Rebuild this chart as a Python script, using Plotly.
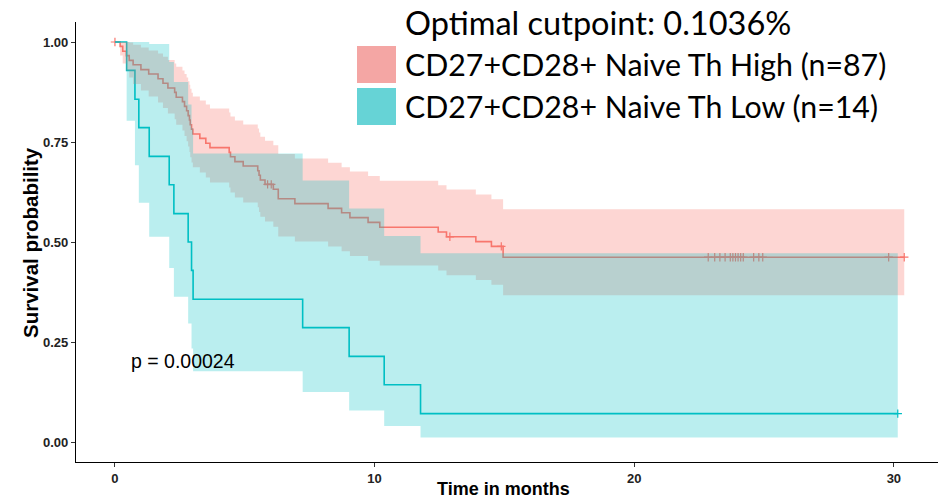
import plotly.graph_objects as go

# ---- High group (n=87) ----
time_high = [0, 0.20, 0.30, 0.44, 0.55, 0.70, 1.00, 1.30, 1.66, 1.85, 2.04, 2.30, 2.36, 2.60, 2.68,
             2.76, 2.82, 2.87, 2.90, 2.95, 3.00, 3.27, 3.50, 3.66, 4.40, 4.45, 4.62, 4.94, 5.50,
             5.55, 5.60, 5.78, 6.10, 6.29, 6.93, 8.21, 8.73, 9.05, 9.75, 10.20, 12.45, 12.77,
             13.90, 14.50, 14.95, 30.40]
surv_high = [1, 0.989, 0.977, 0.966, 0.954, 0.943, 0.931, 0.920, 0.908, 0.897, 0.885, 0.874, 0.862,
             0.851, 0.839, 0.828, 0.816, 0.805, 0.793, 0.782, 0.770, 0.759, 0.747, 0.736, 0.724,
             0.713, 0.701, 0.690, 0.678, 0.667, 0.655, 0.644, 0.632, 0.608, 0.596, 0.584, 0.573,
             0.561, 0.549, 0.537, 0.525, 0.513, 0.501, 0.489, 0.462, 0.462]
lower_high = [1, 0.966, 0.946, 0.928, 0.911, 0.895, 0.879, 0.864, 0.849, 0.835, 0.821, 0.807, 0.793,
              0.779, 0.765, 0.752, 0.739, 0.725, 0.712, 0.699, 0.687, 0.674, 0.661, 0.649, 0.636,
              0.624, 0.611, 0.599, 0.587, 0.575, 0.563, 0.551, 0.538, 0.514, 0.501, 0.489, 0.477,
              0.465, 0.453, 0.441, 0.429, 0.417, 0.405, 0.393, 0.367, 0.367]
upper_high = [1, 1, 1, 1, 0.999, 0.993, 0.986, 0.979, 0.971, 0.963, 0.955, 0.946, 0.938, 0.929,
              0.920, 0.911, 0.902, 0.893, 0.883, 0.873, 0.864, 0.854, 0.844, 0.834, 0.824, 0.814,
              0.804, 0.794, 0.784, 0.774, 0.763, 0.753, 0.742, 0.720, 0.709, 0.698, 0.687, 0.676,
              0.665, 0.653, 0.642, 0.631, 0.619, 0.607, 0.582, 0.582]
cens_time_high = [0.0, 5.88, 6.02, 12.90, 14.88, 22.85, 23.10, 23.30, 23.50, 23.70, 23.80, 23.90,
                  24.00, 24.10, 24.20, 24.60, 24.80, 24.95, 29.80, 30.40]
cens_surv_high = [1, 0.644, 0.644, 0.513, 0.489, 0.462, 0.462, 0.462, 0.462, 0.462, 0.462, 0.462,
                  0.462, 0.462, 0.462, 0.462, 0.462, 0.462, 0.462, 0.462]

# ---- Low group (n=14) ----
time_low = [0, 0.45, 0.77, 0.92, 1.32, 2.09, 2.27, 2.82, 2.95, 3.01, 7.23, 9.02, 10.37, 11.77, 30.15]
surv_low = [1, 0.929, 0.857, 0.786, 0.714, 0.643, 0.571, 0.500, 0.429, 0.357, 0.286, 0.214,
            0.143, 0.071, 0.071]
lower_low = [1, 0.803, 0.692, 0.598, 0.513, 0.435, 0.363, 0.296, 0.234, 0.177, 0.125, 0.079,
             0.040, 0.011, 0.011]
upper_low = [1, 1, 1, 1, 0.995, 0.950, 0.900, 0.844, 0.785, 0.721, 0.654, 0.584, 0.515, 0.472, 0.472]
cens_time_low = [30.15]
cens_surv_low = [0.071]

RED = "#F8766D"
CYAN = "#00BFC4"
RED_FILL = "rgba(248,118,109,0.30)"
CYAN_FILL = "rgba(0,191,196,0.27)"

x_ticks = [0, 10, 20, 30]
y_ticks = [0, 0.25, 0.5, 0.75, 1.0]
y_ticktext = ["0.00", "0.25", "0.50", "0.75", "1.00"]

legend_title = "Optimal cutpoint: 0.1036%"
legend_high = "CD27+CD28+ Naive Th High (n=87)"
legend_low = "CD27+CD28+ Naive Th Low (n=14)"
pval_text = "p = 0.00024"

fig = go.Figure()

fig.add_trace(go.Scatter(x=time_high, y=surv_high, mode="lines", line=dict(color=RED, width=1.6, shape="hv"),
                         showlegend=False, hoverinfo="skip"))
fig.add_trace(go.Scatter(x=cens_time_high, y=cens_surv_high, mode="markers",
                         marker=dict(symbol="cross-thin", size=6, line=dict(color=RED, width=1.2)),
                         showlegend=False, hoverinfo="skip"))
fig.add_trace(go.Scatter(x=time_low, y=surv_low, mode="lines", line=dict(color=CYAN, width=1.6, shape="hv"),
                         showlegend=False, hoverinfo="skip"))
fig.add_trace(go.Scatter(x=cens_time_low, y=cens_surv_low, mode="markers",
                         marker=dict(symbol="cross-thin", size=6, line=dict(color=CYAN, width=1.2)),
                         showlegend=False, hoverinfo="skip"))

# confidence bands (drawn over the lines, as in the original)
fig.add_trace(go.Scatter(x=time_high, y=upper_high, mode="lines", line=dict(width=0, shape="hv"),
                         showlegend=False, hoverinfo="skip"))
fig.add_trace(go.Scatter(x=time_high, y=lower_high, mode="lines", line=dict(width=0, shape="hv"),
                         fill="tonexty", fillcolor=RED_FILL, showlegend=False, hoverinfo="skip"))
fig.add_trace(go.Scatter(x=time_low, y=upper_low, mode="lines", line=dict(width=0, shape="hv"),
                         showlegend=False, hoverinfo="skip"))
fig.add_trace(go.Scatter(x=time_low, y=lower_low, mode="lines", line=dict(width=0, shape="hv"),
                         fill="tonexty", fillcolor=CYAN_FILL, showlegend=False, hoverinfo="skip"))

tickfont = dict(family="Liberation Sans, Arial, sans-serif", size=13, color="#222222", weight="bold")

fig.update_layout(
    width=938, height=500,
    margin=dict(l=76, r=0, t=22, b=38),
    plot_bgcolor="white", paper_bgcolor="white",
    showlegend=False,
    xaxis=dict(range=[-1.5, 31.7], tickvals=x_ticks, ticks="outside", ticklen=4, tickwidth=1.1,
               tickcolor="#333333", showline=True, linecolor="black", linewidth=1.2,
               showgrid=False, zeroline=False, tickfont=tickfont),
    yaxis=dict(range=[-0.05, 1.05], tickvals=y_ticks, ticktext=y_ticktext, ticks="outside", ticklen=4,
               tickwidth=1.1, tickcolor="#333333", showline=True, linecolor="black", linewidth=1.2,
               showgrid=False, zeroline=False, tickfont=tickfont),
)

def px_x(p):
    return (p - 76) / 862.0

def px_y(p):
    return (462 - p) / 440.0

annotations = [
    dict(text="Survival probability", textangle=-90, x=px_x(31), y=px_y(243), xref="paper", yref="paper",
         showarrow=False, xanchor="center", yanchor="middle",
         font=dict(family="Liberation Sans, Arial, sans-serif", size=20.5, color="black", weight="bold")),
    dict(text="Time in months", x=px_x(503), y=px_y(489), xref="paper", yref="paper",
         showarrow=False, xanchor="center", yanchor="middle",
         font=dict(family="Liberation Sans, Arial, sans-serif", size=18, color="black", weight="bold")),
    dict(text=pval_text, x=0.55, y=0.2025, xref="x", yref="y", showarrow=False, xanchor="left",
         yanchor="middle", font=dict(family="Liberation Sans, Arial, sans-serif", size=19.5, color="black")),
    dict(text=legend_title, x=px_x(403), y=px_y(22), xref="paper", yref="paper", showarrow=False,
         xanchor="left", yanchor="middle", font=dict(family="Lato, sans-serif", size=32.5, color="black")),
    dict(text=legend_high, x=px_x(403), y=px_y(64), xref="paper", yref="paper", showarrow=False,
         xanchor="left", yanchor="middle", font=dict(family="Lato, sans-serif", size=30.3, color="black")),
    dict(text=legend_low, x=px_x(403), y=px_y(106), xref="paper", yref="paper", showarrow=False,
         xanchor="left", yanchor="middle", font=dict(family="Lato, sans-serif", size=30.3, color="black")),
]
fig.update_layout(annotations=annotations)

fig.add_shape(type="rect", xref="paper", yref="paper", x0=px_x(357), x1=px_x(396), y0=px_y(83), y1=px_y(46),
              fillcolor="#F4A6A4", line=dict(width=0))
fig.add_shape(type="rect", xref="paper", yref="paper", x0=px_x(357), x1=px_x(396), y0=px_y(125), y1=px_y(88),
              fillcolor="#66D3D6", line=dict(width=0))

fig.write_html("out.html", config={"displayModeBar": False},
               post_script="document.body.style.margin='0';document.body.style.overflow='hidden';")
